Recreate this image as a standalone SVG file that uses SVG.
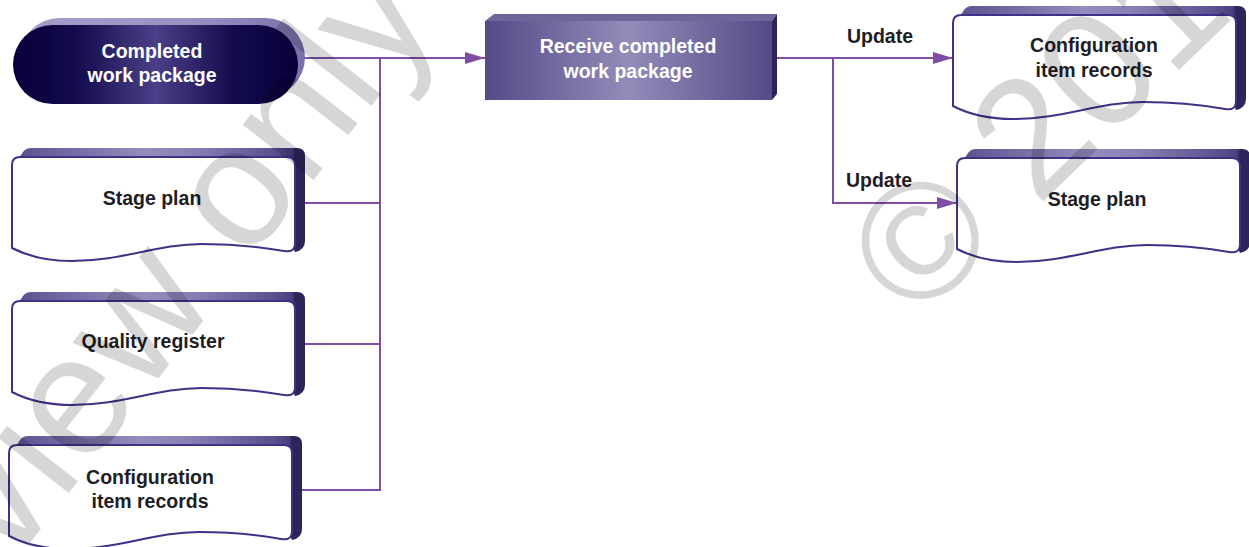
<svg xmlns="http://www.w3.org/2000/svg" xmlns:xlink="http://www.w3.org/1999/xlink" width="1249" height="547" viewBox="0 0 1249 547">
  <style>
    .lbl { font-family: "Liberation Sans", Arial, sans-serif; font-weight: bold; font-size: 19.5px; text-anchor: middle; fill: #1f1d24; }
    .wl { fill: #ffffff; }
    .docFront { fill: #ffffff; stroke: #3d3287; stroke-width: 2; }
    .docBack { fill: url(#docBackGrad); }
    .conn { fill: none; stroke: #7f4da6; stroke-width: 2; }
    .wm { font-family: "Liberation Sans", Arial, sans-serif; fill: #000000; fill-opacity: 0.16; }
  </style>
  <defs>
    <linearGradient id="termGrad" x1="0" y1="0" x2="1" y2="0">
      <stop offset="0" stop-color="#07003a"/>
      <stop offset="0.22" stop-color="#130b4c"/>
      <stop offset="0.5" stop-color="#4a3f88"/>
      <stop offset="0.78" stop-color="#130b4c"/>
      <stop offset="1" stop-color="#07003a"/>
    </linearGradient>
    <linearGradient id="termShadowGrad" x1="0" y1="0" x2="1" y2="0">
      <stop offset="0" stop-color="#a59dca"/>
      <stop offset="0.6" stop-color="#9a91c2"/>
      <stop offset="1" stop-color="#7a70aa"/>
    </linearGradient>
    <linearGradient id="procGrad" x1="0" y1="0" x2="1" y2="0">
      <stop offset="0" stop-color="#554a87"/>
      <stop offset="0.5" stop-color="#938bb9"/>
      <stop offset="1" stop-color="#554a87"/>
    </linearGradient>
    <linearGradient id="docBackGrad" x1="0" y1="0" x2="1" y2="0">
      <stop offset="0" stop-color="#5a4f8e"/>
      <stop offset="0.45" stop-color="#948cbd"/>
      <stop offset="0.6" stop-color="#8a82b6"/>
      <stop offset="0.9" stop-color="#5a4f8e"/>
      <stop offset="0.955" stop-color="#4a4080"/>
      <stop offset="0.966" stop-color="#2c255a"/>
      <stop offset="1" stop-color="#2c255a"/>
    </linearGradient>
    <path id="docShape" d="M0,91 Q25,104 60,104 C110,104 145,87 190,87 C225,87 255,91 272,94 Q283,96 283,86 L283,8 Q283,0 275,0 L8,0 Q0,0 0,8 Z"/>
    <path id="docBackShape" d="M0,12 L11,-5 Q14,-9 19,-9 L285,-9 Q293,-9 293,-1 L293,84 Q293,93 283,95 L276,80 L0,80 Z"/>
    <marker id="arrow" markerUnits="userSpaceOnUse" markerWidth="20" markerHeight="12" refX="20" refY="6" orient="auto">
      <path d="M0,0 L20,6 L0,12 Z" fill="#7f4da6"/>
    </marker>
  </defs>

  <rect x="0" y="0" width="1249" height="547" fill="#ffffff"/>

  <g id="connectors">
    <line class="conn" x1="305" y1="58" x2="485" y2="58" marker-end="url(#arrow)"/>
    <polyline class="conn" points="380,58 380,490 302,490"/>
    <line class="conn" x1="305" y1="203" x2="380" y2="203"/>
    <line class="conn" x1="305" y1="344" x2="380" y2="344"/>
    <line class="conn" x1="777" y1="58" x2="953" y2="58" marker-end="url(#arrow)"/>
    <polyline class="conn" points="833,58 833,203 957,203" marker-end="url(#arrow)"/>
    <text class="lbl" x="880" y="43">Update</text>
    <text class="lbl" x="879" y="187">Update</text>
  </g>

  <g id="node-completed-work-package">
    <rect x="20" y="18" width="285" height="79" rx="39.5" fill="url(#termShadowGrad)"/>
    <rect x="13" y="25" width="285" height="79" rx="39.5" fill="url(#termGrad)"/>
    <text class="lbl wl" x="152" y="58">Completed</text>
    <text class="lbl wl" x="152" y="82">work package</text>
  </g>

  <g id="node-receive-completed-work-package">
    <polygon points="485,21 494,14 777,14 772,21" fill="#6e6698"/>
    <polygon points="772,21 777,14 777,94 772,100" fill="#2b2458"/>
    <rect x="485" y="21" width="287" height="79" fill="url(#procGrad)"/>
    <text class="lbl wl" x="628" y="53">Receive completed</text>
    <text class="lbl wl" x="628" y="78">work package</text>
  </g>

  <g id="node-stage-plan-in" transform="translate(12,157)">
    <use href="#docBackShape" xlink:href="#docBackShape" class="docBack"/>
    <use href="#docShape" xlink:href="#docShape" class="docFront"/>
    <text class="lbl" x="140" y="48">Stage plan</text>
  </g>

  <g id="node-quality-register" transform="translate(12,301)">
    <use href="#docBackShape" xlink:href="#docBackShape" class="docBack"/>
    <use href="#docShape" xlink:href="#docShape" class="docFront"/>
    <text class="lbl" x="141" y="47">Quality register</text>
  </g>

  <g id="node-config-item-records-in" transform="translate(9,445)">
    <use href="#docBackShape" xlink:href="#docBackShape" class="docBack"/>
    <use href="#docShape" xlink:href="#docShape" class="docFront"/>
    <text class="lbl" x="141" y="39">Configuration</text>
    <text class="lbl" x="141" y="63">item records</text>
  </g>

  <g id="node-config-item-records-out" transform="translate(953,15)">
    <use href="#docBackShape" xlink:href="#docBackShape" class="docBack"/>
    <use href="#docShape" xlink:href="#docShape" class="docFront"/>
    <text class="lbl" x="141" y="37">Configuration</text>
    <text class="lbl" x="141" y="62">item records</text>
  </g>

  <g id="node-stage-plan-out" transform="translate(957,158)">
    <use href="#docBackShape" xlink:href="#docBackShape" class="docBack"/>
    <use href="#docShape" xlink:href="#docShape" class="docFront"/>
    <text class="lbl" x="140" y="48">Stage plan</text>
  </g>

  <g id="watermark">
    <text class="wm" font-size="170" text-anchor="end" transform="translate(440,18) rotate(-52)">Preview only</text>
    <text class="wm" font-size="166" transform="translate(916,324) rotate(-44)">© 2017</text>
  </g>
</svg>
